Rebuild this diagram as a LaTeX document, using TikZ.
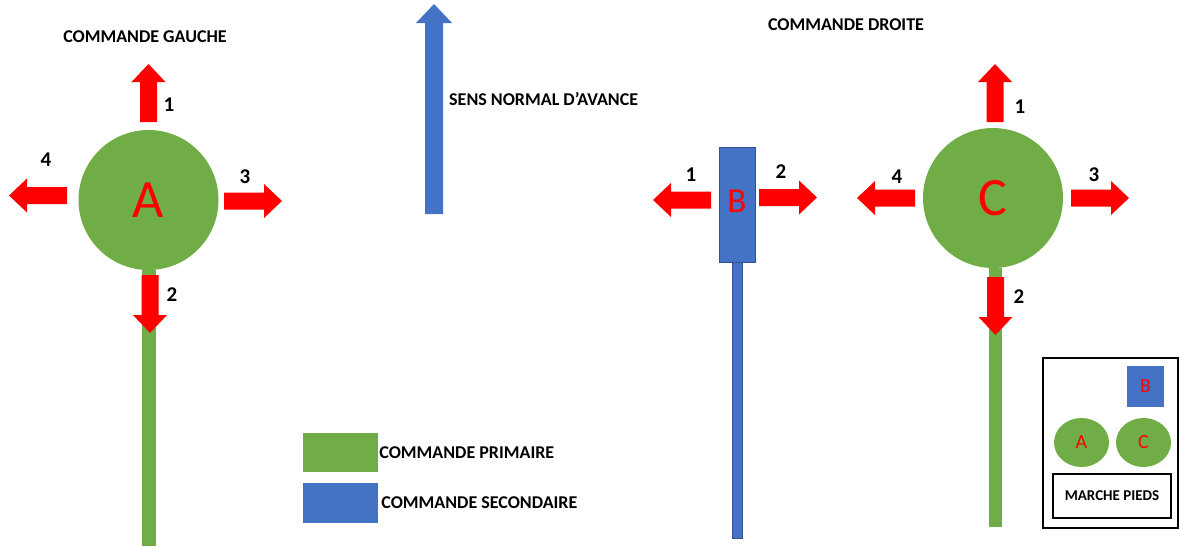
\documentclass[tikz,border=0pt]{standalone}
\usepackage{fontspec}
\setmainfont{Carlito}
\usetikzlibrary{shapes.geometric}
\definecolor{prim}{RGB}{112,173,71}
\definecolor{sec}{RGB}{68,114,196}
\definecolor{secdark}{RGB}{47,82,143}
\tikzset{
  redarrow/.pic={\fill[red] (0,-8.5) -- (40,-8.5) -- (40,-17) -- (58,0) -- (40,17) -- (40,8.5) -- (0,8.5) -- cycle;}
}
\begin{document}
\begin{tikzpicture}[x=1pt, y=-1pt,
  lbl/.style={font=\fontsize{18}{18}\selectfont\bfseries, inner sep=0pt},
  num/.style={font=\fontsize{21}{21}\selectfont\bfseries, inner sep=0pt},
  knob/.style={circle,fill=prim,inner sep=0pt,minimum size=140pt,text=red,font=\fontsize{54}{54}\selectfont},
  small/.style={inner sep=0pt,text=red,font=\fontsize{20}{20}\selectfont}]
\useasboundingbox (0,0) rectangle (1180,546);
% titles
\node[lbl] (tg) at (145,37) {COMMANDE GAUCHE};
\node[lbl] (td) at (846,25) {COMMANDE DROITE};
% direction
\fill[sec] (425,214) -- (425,23) -- (416,23) -- (434,4) -- (452,23) -- (443,23) -- (443,214) -- cycle;
\coordinate (dir) at (443,99);
\node[lbl,anchor=west] (sens) at ([xshift=6pt]dir) {SENS NORMAL D’AVANCE};
% left control A
\node[knob] (A) at (148.5,200) {A};
\fill[prim] ([xshift=-6.5pt]A.south) rectangle (156,546);
\pic[rotate=90] at (148.5,122) {redarrow};
\pic[rotate=180] at (67,195.5) {redarrow};
\pic at (224,201) {redarrow};
\pic[rotate=-90] at (150,275) {redarrow};
\node[num] (a1) at (169,104.5) {1};
\node[num] (a4) at (46,160) {4};
\node[num] (a3) at (245,177) {3};
\node[num] (a2) at (172,295) {2};
% secondary control B
\node[draw=secdark,fill=sec,inner sep=0pt,minimum width=36pt,minimum height=115pt,text=red,font=\fontsize{35}{35}\selectfont] (B) at (737,204.5) {\raisebox{6pt}{B}};
\filldraw[fill=sec,draw=secdark] ([xshift=-5pt]B.south) rectangle (742,538);
\pic[rotate=180] at (711,200) {redarrow};
\pic at (759,197.5) {redarrow};
\node[num] (b1) at (691,175) {1};
\node[num] (b2) at (781,172) {2};
% right control C
\node[knob] (C) at (993,198) {C};
\fill[prim] ([xshift=-4pt]C.south) rectangle (1002,527);
\pic[rotate=90] at (995,122) {redarrow};
\pic[rotate=180] at (915,198) {redarrow};
\pic at (1071,198) {redarrow};
\pic[rotate=-90] at (995.5,277) {redarrow};
\node[num] (c1) at (1020,107) {1};
\node[num] (c4) at (897,177) {4};
\node[num] (c3) at (1094,175) {3};
\node[num] (c2) at (1019,297) {2};
% legend
\node[fill=prim,inner sep=0pt,minimum width=75pt,minimum height=39pt] (kp) at (340.5,452.5) {};
\node[lbl,anchor=west] (lp) at ([xshift=1pt]kp.east) {COMMANDE PRIMAIRE};
\node[fill=sec,inner sep=0pt,minimum width=75pt,minimum height=40pt] (ks) at (340.5,503) {};
\node[lbl,anchor=west] (ls) at ([xshift=3pt]ks.east) {COMMANDE SECONDAIRE};
% cab layout
\node[draw=black,line width=2.5pt,inner sep=0pt,minimum width=135pt,minimum height=170pt] (cab) at (1110.5,443) {};
\node[fill=sec,small,minimum width=37pt,minimum height=41pt] (sb) at (1145.5,386.5) {B};
\node[ellipse,fill=prim,small,minimum width=55pt,minimum height=49pt] (sa) at (1081.5,442.5) {A};
\node[ellipse,fill=prim,small,minimum width=55pt,minimum height=49pt] (sc) at (1143.5,442.5) {C};
\node[draw=black,line width=1.5pt,inner sep=0pt,minimum width=118pt,minimum height=44pt,font=\fontsize{15}{15}\selectfont\bfseries] (mp) at (1112,496) {MARCHE PIEDS};
\end{tikzpicture}
\end{document}
